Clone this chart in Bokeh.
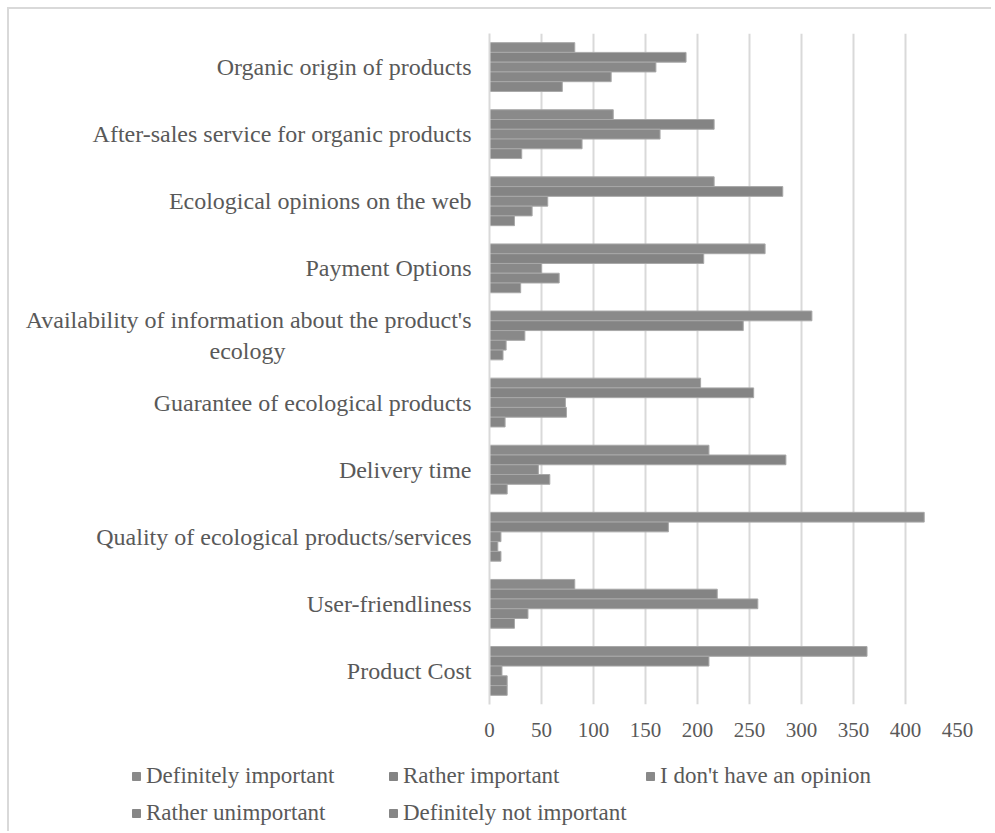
from bokeh.plotting import figure
from bokeh.models import (FactorRange, Range1d, FixedTicker, Legend, LegendItem,
                          ColumnDataSource, InlineStyleSheet)
from bokeh.transform import dodge
from bokeh.embed import file_html
from bokeh.resources import INLINE

NB = "\u00a0"
# Categories, top to bottom as shown
categories = [
    "Organic origin of products",
    "After-sales service for organic products",
    "Ecological opinions on the web",
    "Payment Options",
    "Availability of information about the product's\necology" + NB * 31,
    "Guarantee of ecological products",
    "Delivery time",
    "Quality of ecological products/services",
    "User-friendliness",
    "Product Cost",
]
series_names = [
    "Definitely important",
    "Rather important",
    "I don't have an opinion",
    "Rather unimportant",
    "Definitely not important",
]
definitely_important = [82, 119, 216, 265, 310, 203, 211, 418, 82, 363]
rather_important = [189, 216, 282, 206, 244, 254, 285, 172, 219, 211]
no_opinion = [160, 164, 56, 50, 34, 73, 47, 11, 258, 12]
rather_unimportant = [117, 89, 41, 67, 16, 74, 58, 8, 37, 17]
definitely_not_important = [70, 31, 24, 30, 13, 15, 17, 11, 24, 17]
x_ticks = [0, 50, 100, 150, 200, 250, 300, 350, 400, 450]

series_values = [definitely_important, rather_important, no_opinion,
                 rather_unimportant, definitely_not_important]
fills = ["#8a8a8a", "#848484", "#898989", "#878787", "#868686"]

FONT = "Liberation Serif"
TXT = "#595959"

source = ColumnDataSource(dict(cat=categories, **{f"s{i}": v for i, v in enumerate(series_values)}))

# ---------------- main chart ----------------
p = figure(
    width=995, height=750,
    y_range=FactorRange(factors=list(reversed(categories)), range_padding=0),
    x_range=Range1d(0, 450),
    output_backend="svg", toolbar_location=None,
    min_border_left=489, min_border_right=38, min_border_top=33, min_border_bottom=46,
)
p.outline_line_color = None
p.background_fill_color = "white"
p.border_fill_color = "white"

bar_h = 0.1455
for i, name in enumerate(series_names):
    off = (2 - i) * bar_h
    p.hbar(y=dodge("cat", off, range=p.y_range), left=0, right=f"s{i}",
           height=bar_h, source=source, fill_color=fills[i],
           line_color="#a8a8a8", line_width=1)

p.ygrid.grid_line_color = None
p.xgrid.grid_line_color = "#d9d9d9"
p.xgrid.grid_line_width = 2
p.xaxis.ticker = FixedTicker(ticks=x_ticks)

p.xaxis.axis_line_color = None
p.xaxis.major_tick_line_color = None
p.xaxis.minor_tick_line_color = None
p.xaxis.major_tick_out = 0
p.xaxis.major_label_standoff = 18
p.xaxis.major_label_text_font = FONT
p.xaxis.major_label_text_font_size = "21px"
p.xaxis.major_label_text_color = TXT

p.yaxis.axis_line_color = "#d9d9d9"
p.yaxis.axis_line_width = 2
p.yaxis.major_tick_line_color = None
p.yaxis.minor_tick_line_color = None
p.yaxis.major_tick_out = 0
p.yaxis.major_label_standoff = 18
p.yaxis.major_label_text_font = FONT
p.yaxis.major_label_text_font_size = "24px"
p.yaxis.major_label_text_color = TXT

p.stylesheets = [InlineStyleSheet(css="""
:host::after {
  content: ""; position: absolute; left: 7px; top: 7px;
  width: 984px; height: 824px; box-sizing: border-box;
  border-left: 2px solid #d9d9d9; border-top: 2px solid #d9d9d9;
  pointer-events: none; z-index: 10;
}
""")]

# ---------------- legend strip (separate root, no frame alignment) ----------------
lg = figure(
    width=995, height=83, x_range=Range1d(0, 995), y_range=Range1d(0, 83),
    output_backend="svg", toolbar_location=None,
    min_border=0, x_axis_location=None, y_axis_location=None,
)
lg.outline_line_color = None
lg.grid.visible = False
lg.background_fill_color = "white"
lg.border_fill_color = "white"

# swatch sources placed outside the visible range (only their legend glyphs show)
swatch = ColumnDataSource(dict(y=[-100], right=[1]))
leg_renderers = []
for i, name in enumerate(series_names):
    r = lg.hbar(y="y", left=0, right="right", height=1, source=swatch,
                fill_color=fills[i], line_color=fills[i], line_width=1)
    leg_renderers.append(r)

legend = Legend(
    items=[LegendItem(label=n, renderers=[r]) for n, r in zip(series_names, leg_renderers)],
    location=(131, 7), orientation="horizontal", ncols=3,
    label_text_font=FONT, label_text_font_size="23px", label_text_color=TXT,
    glyph_width=10, glyph_height=10, label_standoff=5, spacing=10,
    label_width=232, label_height=27, padding=0, margin=0,
    border_line_color=None, background_fill_alpha=0,
)
lg.add_layout(legend, "center")

open("out.html", "w").write(file_html([p, lg], INLINE))
